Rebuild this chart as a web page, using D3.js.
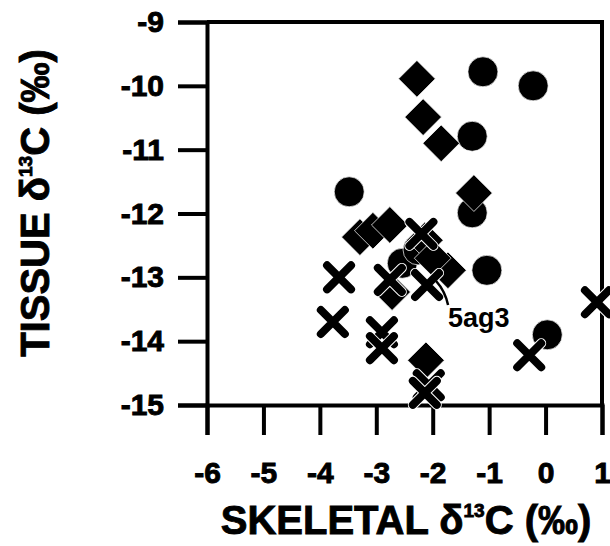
<!DOCTYPE html>
<html>
<head>
<meta charset="utf-8">
<script src="https://cdn.jsdelivr.net/npm/d3@7"></script>
<style>
  html, body { margin: 0; padding: 0; background: #fff; }
  svg { display: block; }
  text { font-family: "Liberation Sans", Arial, sans-serif; font-weight: bold; fill: #000; }
</style>
</head>
<body>
<svg id="chart" width="610" height="546"></svg>
<script>
// Skeletal vs. tissue δ13C (‰), three sample groups
const circleX  = [-1.11, -0.22, -1.30, -3.48, -1.30, -1.04, 0.03, -2.54, -2.26];
const circleY  = [-9.78, -10.00, -10.79, -11.66, -11.99, -12.89, -13.90, -12.78, -12.57];

const diamondX = [-2.28, -2.17, -1.85, -1.27, -3.29, -3.06, -2.76, -1.73, -2.72, -2.12, -2.14, -2.00];
const diamondY = [-9.89, -10.49, -10.90, -11.68, -12.37, -12.27, -12.18, -12.89, -13.23, -14.30, -12.42, -12.70];

const crossX   = [-3.66, -3.77, -2.90, -2.90, -2.07, -2.14, -0.29, 0.91, -2.10, -2.76, -2.20];
const crossY   = [-13.00, -13.70, -13.86, -14.11, -14.69, -14.81, -14.22, -13.39, -13.12, -13.04, -12.32];

const xTicks = [-6, -5, -4, -3, -2, -1, 0, 1];
const yTicks = [-15, -14, -13, -12, -11, -10, -9];

// labelled sample
const noteLabel = "5ag3";
const notePoint = [-2.10, -13.12];

const svg = d3.select("#chart");
const m = { left: 207, right: 602, top: 22, bottom: 405 };

const x = d3.scaleLinear().domain([-6, 1]).range([m.left, m.right]);
const y = d3.scaleLinear().domain([-15, -9]).range([m.bottom, m.top]);

const ink = "#000";
const fmt = d => String(d).replace("−", "-");

// frame (top and right edges)
svg.append("path")
  .attr("d", `M${m.left},${m.top}H${m.right}V${m.bottom}`)
  .attr("fill", "none").attr("stroke", ink).attr("stroke-width", 4);

function styleAxis(g) {
  g.select(".domain").attr("stroke", ink).attr("stroke-width", 4);
  g.selectAll(".tick line").attr("stroke", ink).attr("stroke-width", 4);
  g.selectAll(".tick text")
    .style("font-size", "30px")
    .style("font-family", "Liberation Sans, Arial, sans-serif")
    .style("font-weight", "bold")
    .attr("fill", ink)
    .attr("stroke", ink).attr("stroke-width", 0.9);
}

// y axis
const yAxis = d3.axisLeft(y).tickValues(yTicks).tickSize(29).tickPadding(14).tickFormat(fmt);
const gy = svg.append("g").attr("transform", `translate(${m.left},0)`).call(yAxis);
styleAxis(gy);

// x axis
const xAxis = d3.axisBottom(x).tickValues(xTicks).tickSize(30).tickPadding(27).tickFormat(fmt);
const gx = svg.append("g").attr("transform", `translate(0,${m.bottom})`).call(xAxis);
styleAxis(gx);

// markers
const plot = svg.append("g");
const outline = "#fff";

plot.selectAll("circle.c").data(d3.zip(circleX, circleY)).join("circle")
  .attr("class", "c")
  .attr("cx", d => x(d[0])).attr("cy", d => y(d[1])).attr("r", 15)
  .attr("fill", ink).attr("stroke", outline).attr("stroke-width", 0.7);

const diamond = d3.symbol().type(d3.symbolSquare).size(26 * 26);
plot.selectAll("path.d").data(d3.zip(diamondX, diamondY)).join("path")
  .attr("class", "d")
  .attr("d", diamond)
  .attr("transform", d => `translate(${x(d[0])},${y(d[1])}) rotate(45)`)
  .attr("fill", ink).attr("stroke", outline).attr("stroke-width", 0.7);

const arm = 12;
const crossPath = `M${-arm},${-arm}L${arm},${arm}M${-arm},${arm}L${arm},${-arm}`;
const crossG = plot.selectAll("g.x").data(d3.zip(crossX, crossY)).join("g")
  .attr("class", "x")
  .attr("transform", d => `translate(${x(d[0])},${y(d[1])})`);
crossG.append("path").attr("d", crossPath)
  .attr("stroke", outline).attr("stroke-width", 10).attr("stroke-linecap", "round");
crossG.append("path").attr("d", crossPath)
  .attr("stroke", ink).attr("stroke-width", 8).attr("stroke-linecap", "round");

// annotation
const px = x(notePoint[0]), py = y(notePoint[1]);
svg.append("path")
  .attr("d", `M${px + 9},${py - 4} Q${px + 18},${py + 6} ${px + 21},${py + 20}`)
  .attr("fill", "none").attr("stroke", ink).attr("stroke-width", 2.5);
svg.append("text")
  .attr("x", px + 21).attr("y", py + 42)
  .style("font-size", "27px")
  .text(noteLabel);

// axis titles
const xt = svg.append("text")
  .attr("x", 406).attr("y", 534)
  .attr("text-anchor", "middle")
  .attr("stroke", ink).attr("stroke-width", 0.9)
  .style("font-size", "40px");
xt.append("tspan").text("SKELETAL δ");
xt.append("tspan").attr("dy", -17).style("font-size", "19px").text("13");
xt.append("tspan").attr("dy", 17).text("C (‰)");

const yt = svg.append("text")
  .attr("transform", `translate(49,203) rotate(-90)`)
  .attr("text-anchor", "middle")
  .attr("stroke", ink).attr("stroke-width", 0.9)
  .style("font-size", "40px");
yt.append("tspan").text("TISSUE δ");
yt.append("tspan").attr("dy", -17).style("font-size", "19px").text("13");
yt.append("tspan").attr("dy", 17).text("C (‰)");
</script>
</body>
</html>
